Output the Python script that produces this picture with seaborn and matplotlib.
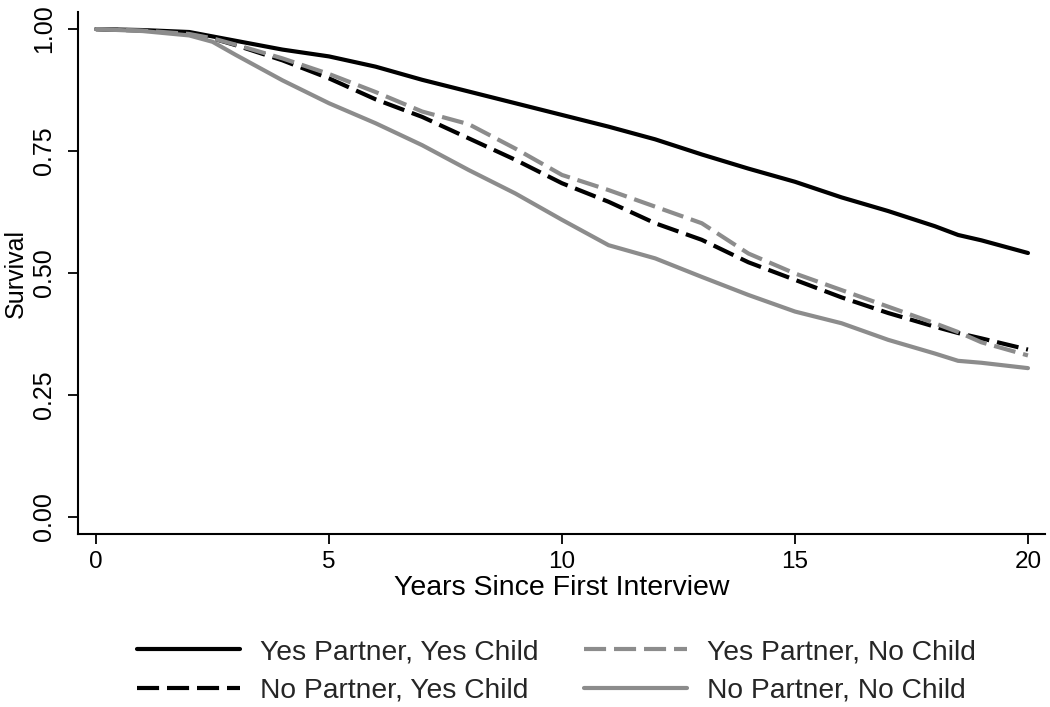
import numpy as np
import pandas as pd
import seaborn as sns
import matplotlib.pyplot as plt
import warnings
warnings.filterwarnings("ignore")

# survival curves (yearly, with a few extra points)
years = [0, 1, 2, 2.5, 3, 4, 5, 6, 7, 8, 9, 10, 11, 12, 13, 14, 15, 16, 17, 18, 18.5, 19, 20]

yes_partner_yes_child = [1.0, 0.998, 0.994, 0.985, 0.976, 0.958, 0.944, 0.923, 0.896, 0.872, 0.848,
                         0.824, 0.800, 0.774, 0.743, 0.714, 0.687, 0.655, 0.627, 0.596, 0.578, 0.567, 0.541]
no_partner_yes_child = [1.0, 0.997, 0.990, 0.981, 0.967, 0.936, 0.899, 0.856, 0.820, 0.776, 0.732,
                        0.684, 0.646, 0.602, 0.568, 0.522, 0.486, 0.450, 0.418, 0.390, 0.377, 0.366, 0.343]
yes_partner_no_child = [1.0, 0.997, 0.990, 0.981, 0.968, 0.940, 0.908, 0.871, 0.831, 0.805, 0.755,
                        0.701, 0.670, 0.636, 0.602, 0.540, 0.499, 0.465, 0.431, 0.397, 0.379, 0.358, 0.331]
no_partner_no_child = [1.0, 0.996, 0.987, 0.974, 0.947, 0.895, 0.848, 0.807, 0.762, 0.711, 0.663,
                       0.609, 0.557, 0.530, 0.492, 0.455, 0.421, 0.397, 0.363, 0.335, 0.320, 0.316, 0.305]

labels = ["Yes Partner, Yes Child", "No Partner, Yes Child",
          "Yes Partner, No Child", "No Partner, No Child"]
series = [yes_partner_yes_child, no_partner_yes_child, yes_partner_no_child, no_partner_no_child]
colors = ["#000000", "#000000", "#8c8c8c", "#8c8c8c"]
dashed = [False, True, True, False]

sns.set_style("ticks")
plt.rcParams["font.family"] = ["Liberation Sans", "DejaVu Sans"]

fig = plt.figure(figsize=(10.5, 7.07), dpi=100)
ax = fig.add_axes([0.0743, 0.2447, 0.9207, 0.7383])

lw = 3.0
for lab, vals, col, dsh in zip(labels, series, colors, dashed):
    df = pd.DataFrame({"years": years, "survival": vals})
    sns.lineplot(data=df, x="years", y="survival", color=col, linewidth=lw, label=lab, ax=ax)
    if dsh:
        ax.lines[-1].set_dashes((5.3, 1.9))

ax.set_xlim(-0.386, 20.36)
ax.set_ylim(-0.035, 1.035)
ax.set_xticks([0, 5, 10, 15, 20])
ax.set_yticks([0, 0.25, 0.5, 0.75, 1.0])
ax.set_yticklabels(["0.00", "0.25", "0.50", "0.75", "1.00"], rotation=90, va="center", fontsize=18)
ax.tick_params(axis="y", length=7, width=1.3, pad=9, colors="#000000")
ax.tick_params(axis="x", length=7, width=1.3, pad=5, labelsize=17.5, colors="#000000")
sns.despine(ax=ax)
for s in ["left", "bottom"]:
    ax.spines[s].set_linewidth(1.5)
    ax.spines[s].set_color("#000000")

ax.set_xlabel("Years Since First Interview", fontsize=20.5, labelpad=2, color="#000000")
ax.set_ylabel("Survival", fontsize=18, color="#000000", va="center", ha="center")
ax.yaxis.set_label_coords(-0.064, 0.5)

ax.get_legend().remove()
handles, labs = ax.get_legend_handles_labels()
fig.legend(handles, labs, loc="center", bbox_to_anchor=(0.53, 0.05), ncol=2, frameon=False,
           fontsize=20.3, handlelength=3.65, handletextpad=0.71, columnspacing=1.6, labelspacing=0.45)

fig.savefig("out.png", dpi=100)
